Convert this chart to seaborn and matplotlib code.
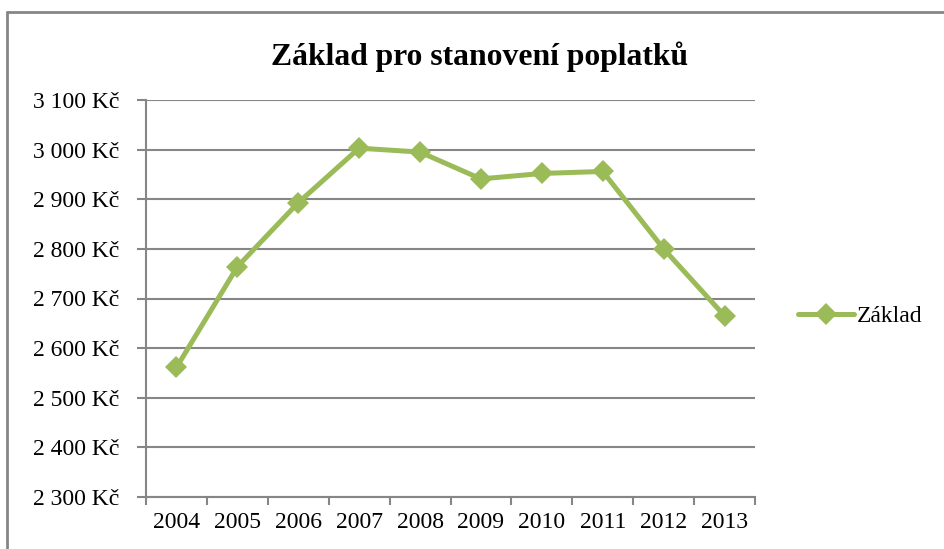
import numpy as np
import matplotlib
matplotlib.use("Agg")
import matplotlib.pyplot as plt
import matplotlib.ticker as mticker
from matplotlib.lines import Line2D
import pandas as pd
import seaborn as sns

years = [2004, 2005, 2006, 2007, 2008, 2009, 2010, 2011, 2012, 2013]
zaklad = [2561, 2764, 2893, 3003, 2995, 2941, 2952, 2956, 2800, 2665]
series_name = "Základ"
title = "Základ pro stanovení poplatků"

df = pd.DataFrame({"rok": years, series_name: zaklad})

sns.set_theme(style="white")
plt.rcParams["font.family"] = ["Liberation Serif", "DejaVu Serif"]
plt.rcParams["text.color"] = "black"

green = "#9BBB59"
grid_gray = "#868686"

fig = plt.figure(figsize=(9.44, 5.49), dpi=100)
ax = fig.add_axes([146 / 944, 1 - 497 / 549, (755 - 146) / 944, (497 - 100) / 549])

sns.lineplot(data=df, x="rok", y=series_name, ax=ax, color=green, linewidth=3.6,
             marker="D", markersize=11, markeredgewidth=0, label=series_name)

ax.set_xlim(years[0] - 0.5, years[-1] + 0.5)
ax.set_ylim(2300, 3100)
ax.yaxis.set_major_locator(mticker.MultipleLocator(100))
ax.yaxis.set_major_formatter(mticker.FuncFormatter(
    lambda v, p: "{:,.0f} Kč".format(v).replace(",", " ")))
ax.set_xticks(years)
ax.set_xticklabels([str(y) for y in years])
ax.set_xticks([y - 0.5 for y in years] + [years[-1] + 0.5], minor=True)

ax.grid(axis="y", color=grid_gray, linewidth=1.5)
ax.set_axisbelow(True)
for s in ["top", "right"]:
    ax.spines[s].set_visible(False)
for s in ["left", "bottom"]:
    ax.spines[s].set_color(grid_gray)
    ax.spines[s].set_linewidth(1.5)

ax.tick_params(axis="y", which="major", left=True, length=6.5, width=1.5,
               color=grid_gray, labelsize=17, pad=13, labelcolor="black")
ax.tick_params(axis="x", which="major", bottom=False, labelsize=17, pad=5,
               labelcolor="black")
ax.tick_params(axis="x", which="minor", bottom=True, length=6, width=1.5,
               color=grid_gray)
ax.set_xlabel("")
ax.set_ylabel("")

fig.suptitle(title, x=(268 + 690) / 2 / 944, y=1 - 57 / 549, va="center",
             fontsize=22.8, fontweight="bold", color="black")

leg = ax.legend(loc="center left", bbox_to_anchor=(1.035, 0.455), frameon=False,
                fontsize=17, handlelength=2.4, handletextpad=0.1)
for t in leg.get_texts():
    t.set_color("black")

# outer chart frame (only top and left edges visible in the crop)
fig.add_artist(Line2D([7 / 944, 7 / 944], [0, 1 - 12 / 549], transform=fig.transFigure,
                      color=grid_gray, linewidth=2))
fig.add_artist(Line2D([7 / 944, 1], [1 - 12 / 549, 1 - 12 / 549], transform=fig.transFigure,
                      color=grid_gray, linewidth=2))

fig.savefig("out.png", dpi=100)
